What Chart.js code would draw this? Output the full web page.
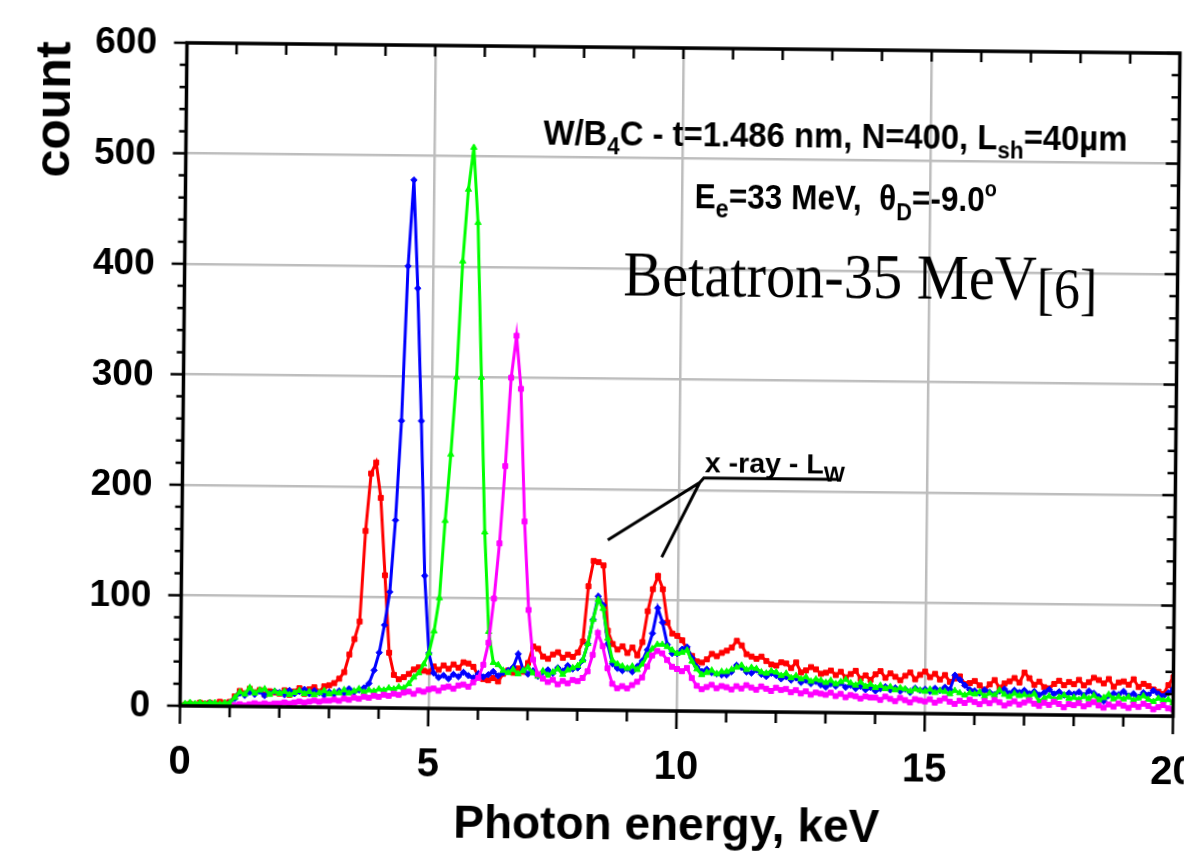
<!DOCTYPE html>
<html>
<head>
<meta charset="utf-8">
<script src="https://cdn.jsdelivr.net/npm/chart.js@4.4.1/dist/chart.umd.min.js"></script>
<style>
    html, body { margin: 0; padding: 0; background: #fff; overflow: hidden; }
    #wrap { width: 1188px; height: 864px; position: relative; }
    /* the scanned figure is tilted a little clockwise */
    #chart { position: absolute; left: 0; top: 0; transform-origin: 680px 380px; transform: rotate(0.6deg); }
</style>
</head>
<body>
<div id="wrap"><canvas id="chart" width="1188" height="864"></canvas></div>
<script>
// spectra, one value per 0.1 keV channel, from 0.0 to 20.0 keV
const CHANNEL_KEV = 0.1;

const redCounts = [
    0, 1, 2, 1, 3, 2, 3, 2, 4, 3,
    4, 9, 14, 12, 16, 13, 15, 11, 14, 13,
    12, 15, 11, 14, 17, 12, 16, 18, 14, 19,
    20, 22, 26, 32, 48, 62, 78, 160, 212, 222,
    190, 120, 50, 30, 26, 28, 31, 35, 37, 34,
    33, 38, 35, 39, 36, 40, 37, 42, 41, 38,
    30, 27, 26, 28, 25, 32, 35, 33, 37, 34,
    42, 57, 55, 48, 46, 50, 52, 47, 50, 48,
    52, 62, 112, 135, 134, 131, 72, 60, 55, 58,
    52, 57, 50, 62, 90, 110, 122, 110, 80, 70,
    68, 64, 56, 50, 45, 44, 47, 52, 50, 53,
    55, 58, 64, 60, 52, 50, 48, 50, 46, 43,
    42, 45, 44, 40, 45, 36, 38, 41, 39, 35,
    36, 38, 34, 37, 32, 35, 38, 31, 34, 30,
    35, 38, 32, 36, 33, 30, 34, 37, 31, 35,
    38, 33, 36, 31, 35, 29, 32, 34, 27, 28,
    30, 26, 22, 27, 31, 24, 28, 30, 33, 29,
    38, 33, 27, 30, 25, 24, 28, 31, 27, 30,
    28, 32, 27, 30, 34, 32, 29, 33, 26, 30,
    31, 28, 33, 26, 29, 27, 24, 22, 20, 28,
    35
];

const blueCounts = [
    1, 0, 2, 1, 2, 1, 3, 2, 1, 2,
    3, 7, 12, 10, 13, 11, 14, 10, 12, 14,
    13, 11, 15, 12, 14, 16, 12, 15, 13, 11,
    14, 12, 15, 13, 17, 14, 16, 18, 22, 34,
    50, 75, 105, 170, 260, 400, 478, 380, 260, 120,
    50, 32, 28, 30, 27, 31, 29, 33, 30, 28,
    32, 29, 31, 34, 30, 33, 35, 38, 50, 36,
    32, 35, 30, 34, 36, 33, 38, 35, 40, 37,
    38, 45, 60, 82, 103, 95, 60, 42, 38, 36,
    38, 35, 40, 45, 55, 70, 93, 80, 60, 52,
    52, 56, 58, 48, 40, 36, 38, 35, 34, 33,
    33, 36, 42, 40, 36, 35, 38, 34, 32, 35,
    33, 30, 32, 29, 31, 27, 29, 26, 28, 25,
    23, 26, 24, 27, 23, 25, 22, 24, 21, 23,
    20, 22, 24, 21, 23, 20, 22, 19, 23, 21,
    22, 20, 23, 21, 24, 22, 35, 31, 26, 22,
    21, 19, 22, 20, 18, 21, 23, 19, 22, 20,
    22, 19, 21, 18, 20, 23, 19, 21, 18, 20,
    19, 21, 18, 22, 20, 17, 13, 18, 20, 19,
    22, 18, 20, 17, 21, 19, 23, 20, 18, 21,
    25
];

const greenCounts = [
    1, 2, 3, 2, 3, 2, 3, 3, 2, 3,
    3, 8, 13, 11, 17, 12, 15, 16, 11, 14,
    12, 14, 11, 13, 15, 12, 14, 11, 13, 15,
    12, 14, 13, 16, 13, 15, 17, 14, 16, 15,
    17, 16, 18, 17, 19, 18, 22, 28, 32, 40,
    50, 70, 100, 170, 230, 300, 405, 470, 508, 440,
    300, 160, 70, 42, 40, 35, 33, 36, 32, 35,
    38, 33, 30, 35, 31, 34, 37, 32, 36, 38,
    40, 45, 60, 82, 100, 92, 65, 45, 42, 40,
    38, 40, 37, 42, 50, 56, 60, 60, 58, 55,
    52, 53, 55, 45, 38, 33, 35, 37, 34, 36,
    36, 38, 40, 42, 38, 40, 39, 36, 35, 37,
    36, 33, 35, 31, 33, 30, 32, 28, 30, 29,
    27, 29, 26, 28, 30, 27, 25, 28, 24, 26,
    23, 25, 22, 24, 21, 23, 22, 20, 22, 21,
    20, 22, 19, 21, 20, 18, 21, 19, 17, 19,
    18, 20, 16, 19, 17, 22, 18, 16, 19, 17,
    18, 16, 19, 12, 15, 17, 14, 16, 18, 15,
    16, 14, 17, 15, 18, 14, 16, 19, 15, 17,
    15, 17, 14, 16, 18, 15, 13, 16, 14, 15,
    12
];

const magentaCounts = [
    null, null, null, null, null, null, null, null, null, null,
    null, 1, 2, 1, 2, 3, 2, 3, 2, 3,
    3, 4, 3, 4, 5, 4, 5, 6, 5, 6,
    6, 7, 6, 8, 7, 9, 8, 10, 9, 11,
    10, 12, 11, 13, 12, 14, 15, 13, 16, 15,
    17, 18, 16, 19, 20, 18, 21, 22, 20, 24,
    28, 40, 60, 100, 150, 220, 300, 338, 290, 170,
    90, 45, 32, 28, 25, 27, 23, 26, 24, 27,
    26, 29, 35, 50, 70, 58, 38, 24, 20, 22,
    20, 23, 26, 30, 40, 50, 54, 52, 46, 40,
    38, 36, 39, 30, 23, 20, 22, 24, 21, 23,
    22, 20, 23, 21, 24, 22, 20, 23, 21, 19,
    22, 20, 21, 18, 20, 17, 19, 16, 18, 17,
    16, 18, 15, 17, 14, 16, 15, 13, 15, 14,
    14, 12, 15, 13, 11, 14, 12, 10, 13, 12,
    11, 13, 10, 12, 14, 11, 9, 12, 10, 13,
    11, 9, 12, 10, 13, 11, 8, 10, 12, 9,
    11, 13, 10, 8, 11, 9, 12, 10, 7, 10,
    9, 11, 8, 10, 12, 9, 7, 10, 8, 11,
    9, 7, 10, 8, 11, 9, 6, 8, 10, 7,
    6
];

const xTickLabels = ["0", "5", "10", "15", "20"];
const yTickLabels = ["0", "100", "200", "300", "400", "500", "600"];

const SANS = '"Liberation Sans", Arial, sans-serif';
const SERIF = '"Liberation Serif", "Times New Roman", serif';

function toPoints(counts) {
    return counts.map((c, i) => ({ x: +(i * CHANNEL_KEV).toFixed(1), y: c }));
}

function serie(counts, color, style, radius, order) {
    return {
        data: toPoints(counts),
        borderColor: color,
        backgroundColor: color,
        borderWidth: 3,
        pointStyle: style,
        pointRadius: radius,
        pointBorderWidth: 1,
        pointBorderColor: color,
        pointBackgroundColor: color,
        tension: 0,
        order: order
    };
}

// text with subscripts, squeezed to the width it has in the figure
function drawRuns(ctx, runs, cx, baseY, width) {
    let total = 0;
    runs.forEach(r => { ctx.font = r.font; r.w = ctx.measureText(r.t).width; total += r.w; });
    ctx.save();
    ctx.translate(cx, baseY);
    ctx.scale(width / total, 1);
    ctx.fillStyle = "#000";
    ctx.textAlign = "left";
    ctx.textBaseline = "alphabetic";
    let x = -total / 2;
    runs.forEach(r => { ctx.font = r.font; ctx.fillText(r.t, x, r.dy || 0); x += r.w; });
    ctx.restore();
}

const framePlugin = {
    id: "frame",
    afterDatasetsDraw(chart) {
        const ctx = chart.ctx;
        const a = chart.chartArea;
        const xs = chart.scales.x, ys = chart.scales.y;
        const X = v => xs.getPixelForValue(v);
        const Y = v => ys.getPixelForValue(v);

        ctx.save();
        ctx.strokeStyle = "#000";
        ctx.lineCap = "butt";

        // frame
        ctx.lineWidth = 3.5;
        ctx.strokeRect(a.left, a.top, a.right - a.left, a.bottom - a.top);

        // tick marks
        ctx.lineWidth = 2.5;
        ctx.beginPath();
        for (let v = 0; v <= 20; v++) {
            const major = v % 5 === 0;
            const px = X(v);
            ctx.moveTo(px, a.bottom);
            ctx.lineTo(px, a.bottom + (major ? 18 : 11));
            ctx.moveTo(px, a.top);
            ctx.lineTo(px, a.top + 11);
        }
        for (let v = 0; v <= 600; v += 20) {
            const major = v % 100 === 0;
            const py = Y(v);
            ctx.moveTo(a.left, py);
            ctx.lineTo(a.left - (major ? 13 : 7), py);
            ctx.moveTo(a.right, py);
            ctx.lineTo(a.right - (major ? 13 : 8), py);
        }
        ctx.stroke();

        // tick labels
        ctx.fillStyle = "#000";
        ctx.font = "bold 40px " + SANS;
        ctx.textAlign = "center";
        ctx.textBaseline = "middle";
        xTickLabels.forEach(l => ctx.fillText(l, X(parseFloat(l)), a.bottom + 57));
        ctx.font = "bold 37px " + SANS;
        ctx.textAlign = "right";
        yTickLabels.forEach(l => ctx.fillText(l, a.left - 30, Y(parseFloat(l)) + 1));

        // axis titles
        ctx.textAlign = "center";
        ctx.font = "bold 46px " + SANS;
        ctx.fillText("Photon energy, keV", 671, 827);
        ctx.save();
        ctx.translate(53, 116);
        ctx.rotate(-Math.PI / 2);
        ctx.font = "bold 50px " + SANS;
        ctx.fillText("count", 0, 0);
        ctx.restore();

        // annotations
        const big = "bold 35px " + SANS;
        const sub = "bold 24px " + SANS;
        drawRuns(ctx, [
            { t: "W/B", font: big },
            { t: "4", font: sub, dy: 9 },
            { t: "C - t=1.486 nm, N=400, L", font: big },
            { t: "sh", font: sub, dy: 9 },
            { t: "=40\u00b5m", font: big }
        ], X(13.08), Y(511), 584);

        drawRuns(ctx, [
            { t: "E", font: big },
            { t: "e", font: "bold 26px " + SANS, dy: 9 },
            { t: "=33 MeV,  \u03b8", font: big },
            { t: "D", font: "bold 24px " + SANS, dy: 10 },
            { t: "=-9.0", font: big },
            { t: "o", font: "bold 22px " + SANS, dy: -15 }
        ], X(13.30), Y(455), 302);

        drawRuns(ctx, [
            { t: "Betatron-35 MeV", font: "63px " + SERIF },
            { t: "[6]", font: "56px " + SERIF, dy: 8 }
        ], X(13.61), Y(376), 474);

        drawRuns(ctx, [
            { t: "x -ray - L", font: "bold 28px " + SANS },
            { t: "W", font: "bold 22px " + SANS, dy: 8 }
        ], X(11.93), Y(216), 140);

        // pointer lines to the L-lines of tungsten
        ctx.lineWidth = 3;
        ctx.beginPath();
        ctx.moveTo(X(13.20), Y(211));
        ctx.lineTo(X(10.50), Y(211));
        ctx.lineTo(X(10.42), Y(207));
        ctx.lineTo(X(8.58), Y(154));
        ctx.moveTo(X(10.42), Y(207));
        ctx.lineTo(X(9.67), Y(139));
        ctx.stroke();

        ctx.restore();
    }
};

const axisCommon = {
    grid: { color: "#bdbdbd", lineWidth: 2.5, drawTicks: false },
    border: { display: false }
};

new Chart(document.getElementById("chart"), {
    type: "line",
    data: {
        datasets: [
            serie(redCounts, "#ff0000", "rect", 3.5, 4),
            serie(blueCounts, "#0000ff", "rectRot", 3.2, 3),
            serie(greenCounts, "#00ff00", "triangle", 3.6, 2),
            serie(magentaCounts, "#ff00ff", "rect", 3.5, 1)
        ]
    },
    options: {
        responsive: false,
        animation: false,
        devicePixelRatio: 1,
        layout: { padding: { left: 183.5, top: 48, right: 11.5, bottom: 153 } },
        plugins: { legend: { display: false }, tooltip: { enabled: false } },
        scales: {
            x: {
                type: "linear", min: 0, max: 20,
                ticks: { display: false, stepSize: 5 },
                ...axisCommon,
                afterFit: s => { s.height = 0; }
            },
            y: {
                min: 0, max: 600,
                ticks: { display: false, stepSize: 100 },
                ...axisCommon,
                afterFit: s => { s.width = 0; }
            }
        }
    },
    plugins: [framePlugin]
});
</script>
</body>
</html>
